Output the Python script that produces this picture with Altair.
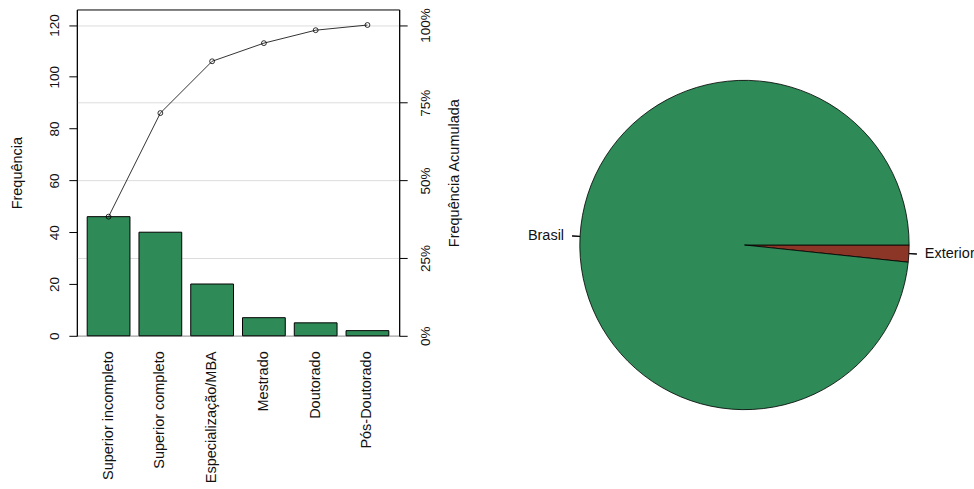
import math
import altair as alt
import pandas as pd

# ---------------- data ----------------
categories = ["Superior incompleto", "Superior completo", "Especialização/MBA",
              "Mestrado", "Doutorado", "Pós-Doutorado"]
frequencies = [46, 40, 20, 7, 5, 2]
left_ticks = [0, 20, 40, 60, 80, 100, 120]
pct_ticks = [0, 0.25, 0.5, 0.75, 1.0]

pie_labels = ["Exterior", "Brasil"]
pie_values = [2, 118]

GREEN = "#2E8B57"
BROWN = "#8B3626"
FONT = "Liberation Sans"
TXT = "#111111"

df = pd.DataFrame({"cat": categories, "freq": frequencies})
total = sum(frequencies)
df["cum"] = df["freq"].cumsum()
df["cum_pct"] = df["cum"] / total
ymax = total * 1.05

x_enc = alt.X(
    "cat:N", sort=categories,
    scale=alt.Scale(paddingInner=0.174, paddingOuter=0.2),
    axis=alt.Axis(title=None, labelAngle=270, labelAlign="right", labelBaseline="middle",
                  ticks=False, domain=False, labelPadding=15, labelFontSize=14.5,
                  labelLimit=0),
)

bars = alt.Chart(df).mark_bar(color=GREEN, stroke="black", strokeWidth=1).encode(
    x=x_enc,
    y=alt.Y("freq:Q", scale=alt.Scale(domain=[0, ymax], nice=False, zero=True),
            axis=alt.Axis(values=left_ticks, title="Frequência", grid=False,
                          labelAngle=270, labelAlign="center", labelBaseline="bottom",
                          tickSize=8, labelPadding=7, labelFontSize=13.5,
                          titleFontSize=14.5, titleAngle=270, titleX=-59,
                          titleBaseline="middle", domainColor="black", tickColor="black")),
)

line = alt.Chart(df).mark_line(
    color="black", strokeWidth=0.8,
    point=alt.OverlayMarkDef(filled=False, color="black", size=24, strokeWidth=0.8),
).encode(
    x=alt.X("cat:N", sort=categories),
    y=alt.Y("cum_pct:Q", scale=alt.Scale(domain=[0, ymax / total], nice=False),
            axis=alt.Axis(orient="right", values=pct_ticks, format=".0%",
                          title="Frequência Acumulada", grid=True, gridColor="#dcdcdc",
                          labelAngle=270, labelAlign="center", labelBaseline="top",
                          tickSize=8, labelPadding=11, labelFontSize=13.5,
                          titleFontSize=14.5, titleAngle=270, titleX=55,
                          titleBaseline="middle", domainColor="black", tickColor="black")),
)

left = alt.layer(bars, line).resolve_scale(y="independent").properties(
    width=323, height=327,
    view=alt.ViewBackground(stroke="black", strokeWidth=1),
)

# ---------------- pie ----------------
pie_df = pd.DataFrame({"label": pie_labels, "value": pie_values,
                       "ord": list(range(len(pie_labels)))})
ptotal = sum(pie_values)
theta_scale = alt.Scale(domain=[0, ptotal],
                        range=[math.pi / 2, math.pi / 2 + 2 * math.pi])

pbase = alt.Chart(pie_df).transform_window(
    cum="sum(value)", sort=[alt.SortField("ord")], frame=[None, 0]
).transform_calculate(
    start="datum.cum - datum.value", mid="datum.cum - datum.value / 2"
)

arcs = pbase.mark_arc(radius=165, stroke="black", strokeWidth=0.8).encode(
    theta=alt.Theta("start:Q", scale=theta_scale),
    theta2="cum:Q",
    color=alt.Color("label:N", scale=alt.Scale(domain=pie_labels, range=[BROWN, GREEN]),
                    legend=None),
)

ticks = pbase.mark_arc(radius=165, radius2=173, stroke="black", strokeWidth=1,
                       fillOpacity=0).encode(
    theta=alt.Theta("mid:Q", scale=theta_scale),
    theta2="mid:Q",
)

lab_b = pbase.transform_filter(alt.datum.label == "Brasil").mark_text(
    radius=181, align="right", baseline="middle", font=FONT, fontSize=14.5,
    color=TXT, clip=True,
).encode(theta=alt.Theta("mid:Q", scale=theta_scale), text="label:N")

lab_e = pbase.transform_filter(alt.datum.label == "Exterior").mark_text(
    radius=181, align="left", baseline="middle", font=FONT, fontSize=14.5,
    color=TXT, clip=True,
).encode(theta=alt.Theta("mid:Q", scale=theta_scale), text="label:N")

pie = alt.layer(arcs, ticks, lab_b, lab_e).properties(width=460, height=472)

chart = alt.hconcat(left, pie, spacing=54).properties(
    padding={"left": 9, "top": 6, "right": 0, "bottom": 0},
).configure_view(stroke="transparent").configure_axis(
    labelFont=FONT, titleFont=FONT, labelColor=TXT, titleColor=TXT,
    titleFontWeight="normal",
)

chart.save("out.html", embed_options={"renderer": "svg", "actions": False})
